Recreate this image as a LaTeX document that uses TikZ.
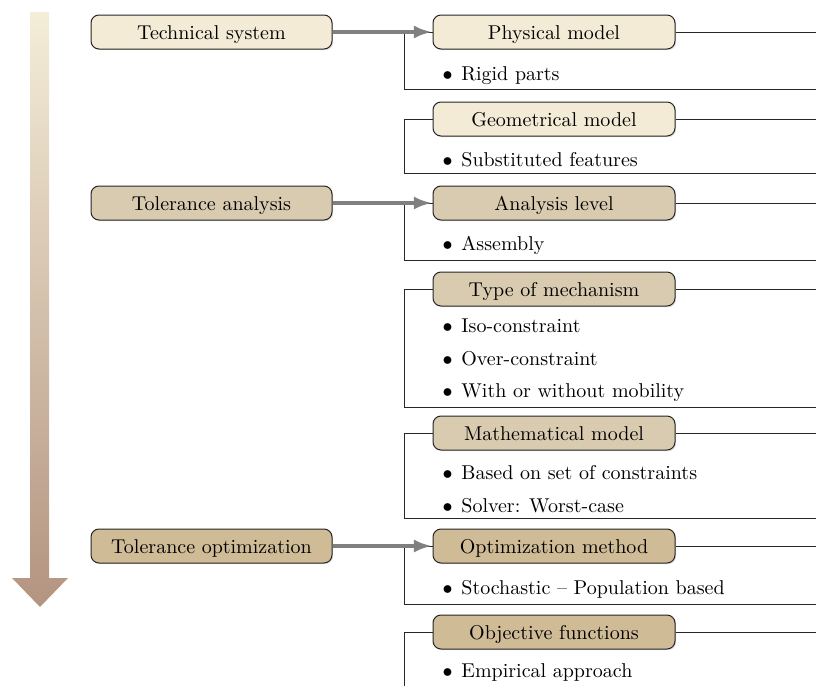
\documentclass[tikz,border=0pt]{standalone}
\usetikzlibrary{arrows.meta,shadows}
\definecolor{stageA}{HTML}{F3EBD6}
\definecolor{stageB}{HTML}{D9CBB0}
\definecolor{stageC}{HTML}{D0BB97}
\definecolor{arrowTop}{HTML}{F4EDD8}
\definecolor{arrowBot}{HTML}{B39480}
\definecolor{flowgray}{HTML}{808080}
\newcommand{\itembullet}{\makebox[10pt][l]{\hspace{0.6pt}$\bullet$}}
\begin{document}
\begin{tikzpicture}[x=0.5pt,y=-0.5pt,
  box/.style={draw=black!85, line width=0.5pt, rounded corners=4pt,
    minimum height=17pt, inner sep=0pt, font=\normalsize,
    text height=8pt, text depth=1pt,
    drop shadow={opacity=0.25, shadow xshift=0.6pt, shadow yshift=-0.6pt}},
  stage/.style={box, minimum width=120.5pt},
  aspect/.style={box, minimum width=121pt},
  item/.style={anchor=west, inner sep=0pt, font=\normalsize},
  frame/.style={draw=black!85, line width=0.5pt},
  flow/.style={draw=flowgray, line width=1.7pt,
    -{Latex[length=9pt,width=6.5pt]}, shorten >=0.3pt}
]
\useasboundingbox (0,0) rectangle (816,686);
\clip (0,0) rectangle (816,686);

% time arrow on the left
\shade[top color=arrowTop, bottom color=arrowBot]
  (30,12) -- (49,12) -- (49,578) -- (68,578) -- (40,607) -- (12,578) -- (30,578) -- cycle;

% frame corners and open ends
\coordinate (f1a) at (404,32);  \coordinate (f1b) at (404,89);
\coordinate (f1c) at (820,89);  \coordinate (f1d) at (820,32);
\coordinate (f2a) at (404,119); \coordinate (f2b) at (404,173);
\coordinate (f2c) at (820,173); \coordinate (f2d) at (820,119);
\coordinate (f3a) at (404,203); \coordinate (f3b) at (404,260);
\coordinate (f3c) at (820,260); \coordinate (f3d) at (820,203);
\coordinate (f4a) at (404,289); \coordinate (f4b) at (404,407);
\coordinate (f4c) at (820,407); \coordinate (f4d) at (820,289);
\coordinate (f5a) at (404,433); \coordinate (f5b) at (404,518);
\coordinate (f5c) at (820,518); \coordinate (f5d) at (820,433);
\coordinate (f6a) at (404,546); \coordinate (f6b) at (404,604);
\coordinate (f6c) at (820,604); \coordinate (f6d) at (820,546);
\coordinate (f7a) at (404,632); \coordinate (f7b) at (404,700);
\coordinate (f7d) at (820,632);

% stages
\node[stage, fill=stageA] (ts) at (211.5,32)  {Technical system};
\node[stage, fill=stageB] (ta) at (211.5,203) {Tolerance analysis};
\node[stage, fill=stageC] (to) at (211.5,546) {Tolerance optimization};

% aspects
\node[aspect, fill=stageA] (pm) at (554,32)  {Physical model};
\node[aspect, fill=stageA] (gm) at (554,119) {Geometrical model};
\node[aspect, fill=stageB] (al) at (554,203) {Analysis level};
\node[aspect, fill=stageB] (tm) at (554,289) {Type of mechanism};
\node[aspect, fill=stageB] (mm) at (554,433) {Mathematical model};
\node[aspect, fill=stageC] (om) at (554,546) {Optimization method};
\node[aspect, fill=stageC] (of) at (554,632) {Objective functions};

% frame lines
\draw[frame] (pm.west) -- (f1a) -- (f1b) -- (f1c);  \draw[frame] (pm.east) -- (f1d);
\draw[frame] (gm.west) -- (f2a) -- (f2b) -- (f2c);  \draw[frame] (gm.east) -- (f2d);
\draw[frame] (al.west) -- (f3a) -- (f3b) -- (f3c);  \draw[frame] (al.east) -- (f3d);
\draw[frame] (tm.west) -- (f4a) -- (f4b) -- (f4c);  \draw[frame] (tm.east) -- (f4d);
\draw[frame] (mm.west) -- (f5a) -- (f5b) -- (f5c);  \draw[frame] (mm.east) -- (f5d);
\draw[frame] (om.west) -- (f6a) -- (f6b) -- (f6c);  \draw[frame] (om.east) -- (f6d);
\draw[frame] (of.west) -- (f7a) -- (f7b);           \draw[frame] (of.east) -- (f7d);

% items
\node[item] (i1)  at (441,76)  {\strut\itembullet Rigid parts};
\node[item] (i2)  at (441,162) {\strut\itembullet Substituted features};
\node[item] (i3)  at (441,246) {\strut\itembullet Assembly};
\node[item] (i4)  at (441,328) {\strut\itembullet Iso-constraint};
\node[item] (i5)  at (441,361) {\strut\itembullet Over-constraint};
\node[item] (i6)  at (441,393) {\strut\itembullet With or without mobility};
\node[item] (i7)  at (441,475) {\strut\itembullet Based on set of constraints};
\node[item] (i8)  at (441,508) {\strut\itembullet Solver: Worst-case};
\node[item] (i9)  at (441,590) {\strut\itembullet Stochastic -- Population based};
\node[item] (i10) at (441,673) {\strut\itembullet Empirical approach};

% flows from stages to aspects
\draw[flow] (ts) -- (pm);
\draw[flow] (ta) -- (al);
\draw[flow] (to) -- (om);
\end{tikzpicture}
\end{document}
